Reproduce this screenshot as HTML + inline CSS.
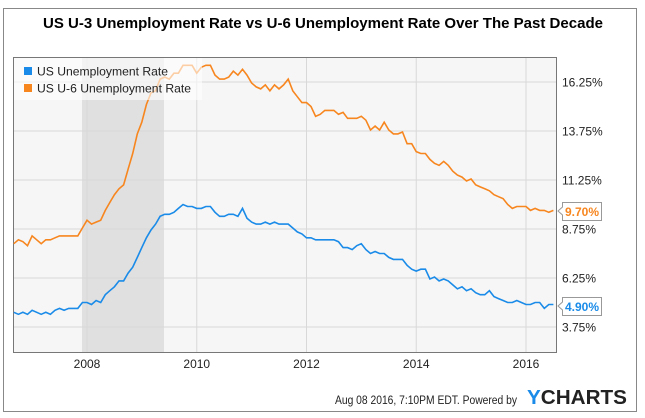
<!DOCTYPE html>
<html><head><meta charset="utf-8"><style>
html,body{margin:0;padding:0;background:#fff;}
svg{display:block;font-family:"Liberation Sans",Arial,sans-serif;}
</style></head><body>
<svg id="s" width="645" height="418" xmlns="http://www.w3.org/2000/svg">
<rect x="3.5" y="8.5" width="633" height="403" fill="#fff" stroke="#888" stroke-width="1"/>
<text x="323" y="28" text-anchor="middle" font-size="15" font-weight="bold" fill="#000" textLength="560" lengthAdjust="spacingAndGlyphs">US U-3 Unemployment Rate vs U-6 Unemployment Rate Over The Past Decade</text>
<rect x="13.5" y="57.5" width="543" height="295" fill="#f6f6f6" stroke="#777" stroke-width="1"/>
<rect x="82" y="58" width="82" height="294" fill="#e0e0e0"/>
<g id="grid" stroke="#d8d8d8" stroke-width="1"></g>
<g id="lines"></g>
<rect x="14" y="58" width="188" height="42" fill="#fff" fill-opacity="0.6"/>
<rect x="24" y="67" width="8" height="8" fill="#1a8be8"/>
<text x="37" y="75.5" font-size="12" fill="#222" textLength="131" lengthAdjust="spacingAndGlyphs">US Unemployment Rate</text>
<rect x="24" y="84" width="8" height="8" fill="#f7861f"/>
<text x="37" y="92.5" font-size="12" fill="#222" textLength="154" lengthAdjust="spacingAndGlyphs">US U-6 Unemployment Rate</text>
<g font-size="12" fill="#222" id="ylab"></g>
<g font-size="12" fill="#222" text-anchor="middle" id="xlab"></g>
<g>
<path d="M562.5 202.5 H601.5 V220.5 H562.5 V215 L558 211 L562.5 207 Z" fill="#fff" stroke="#999"/>
<text x="582" y="216" text-anchor="middle" font-size="12" font-weight="bold" fill="#f7861f">9.70%</text>
<path d="M562.5 297.5 H601.5 V315.5 H562.5 V310 L558 306 L562.5 302 Z" fill="#fff" stroke="#999"/>
<text x="582" y="311" text-anchor="middle" font-size="12" font-weight="bold" fill="#1a8be8">4.90%</text>
</g>
<text x="517" y="404" text-anchor="end" font-size="11.5" fill="#222" textLength="182" lengthAdjust="spacingAndGlyphs">Aug 08 2016, 7:10PM EDT. Powered by</text>
<text x="527" y="404" font-size="20" font-weight="bold" textLength="100" lengthAdjust="spacingAndGlyphs"><tspan fill="#1a8be8">Y</tspan><tspan fill="#222">CHARTS</tspan></text>
</svg>
<script>
var NS="http://www.w3.org/2000/svg";
function el(t,a,p,txt){var e=document.createElementNS(NS,t);for(var k in a)e.setAttribute(k,a[k]);if(txt)e.textContent=txt;document.getElementById(p).appendChild(e);return e;}
function Y(v){return 82+(16.25-v)*19.6;}
function X(i){return 13.8+i*4.573;}
var ys=[16.25,13.75,11.25,8.75,6.25,3.75];
ys.forEach(function(v){var y=Y(v);el("line",{x1:14,x2:556,y1:y,y2:y},"grid");el("text",{x:562,y:y+4.5},"ylab",v.toFixed(2)+"%");});
for(var k=0;k<5;k++){var x=87+k*109.75;el("line",{x1:x,x2:x,y1:58,y2:352},"grid");el("text",{x:x,y:368},"xlab",String(2008+2*k));}
var u3=[4.5,4.4,4.5,4.4,4.6,4.5,4.4,4.5,4.4,4.6,4.7,4.6,4.7,4.7,4.7,5.0,5.0,4.9,5.1,5.0,5.4,5.6,5.8,6.1,6.1,6.5,6.8,7.3,7.8,8.3,8.7,9.0,9.4,9.5,9.5,9.6,9.8,10.0,9.9,9.9,9.8,9.8,9.9,9.9,9.6,9.4,9.4,9.5,9.5,9.4,9.8,9.3,9.1,9.0,9.0,9.1,9.0,9.1,9.0,9.0,9.0,8.8,8.6,8.5,8.3,8.3,8.2,8.2,8.2,8.2,8.2,8.1,7.8,7.8,7.7,7.9,8.0,7.7,7.5,7.6,7.5,7.5,7.3,7.2,7.2,7.2,6.9,6.7,6.6,6.7,6.7,6.2,6.3,6.1,6.2,6.1,5.9,5.7,5.8,5.6,5.7,5.5,5.4,5.4,5.6,5.3,5.2,5.1,5.0,5.0,5.1,5.0,4.9,4.9,5.0,5.0,4.7,4.9,4.9];
var u6=[8.0,8.2,8.1,7.9,8.4,8.2,8.0,8.2,8.2,8.3,8.4,8.4,8.4,8.4,8.4,8.8,9.2,9.0,9.1,9.2,9.7,10.1,10.5,10.8,11.0,11.8,12.6,13.6,14.2,15.1,15.7,15.8,16.4,16.5,16.4,16.7,16.7,17.1,17.1,17.1,16.7,17.0,17.1,17.1,16.6,16.4,16.4,16.5,16.8,16.6,16.9,16.6,16.2,16.0,15.9,16.1,15.8,16.1,15.9,16.1,16.4,15.8,15.5,15.2,15.2,15.0,14.5,14.6,14.8,14.8,14.8,14.6,14.7,14.4,14.4,14.4,14.5,14.3,13.8,14.0,13.8,14.2,13.8,13.6,13.6,13.7,13.1,13.1,12.7,12.6,12.6,12.3,12.1,12.0,12.2,12.0,11.7,11.5,11.4,11.2,11.3,11.0,10.9,10.8,10.7,10.5,10.4,10.3,10.0,9.8,9.9,9.9,9.9,9.7,9.8,9.7,9.7,9.6,9.7];
function pts(a){return a.map(function(v,i){return X(i).toFixed(1)+","+Y(v).toFixed(1);}).join(" ");}
el("polyline",{points:pts(u6),fill:"none",stroke:"#f7861f","stroke-width":1.6},"lines");
el("polyline",{points:pts(u3),fill:"none",stroke:"#1a8be8","stroke-width":1.6},"lines");
</script>
</body></html>
